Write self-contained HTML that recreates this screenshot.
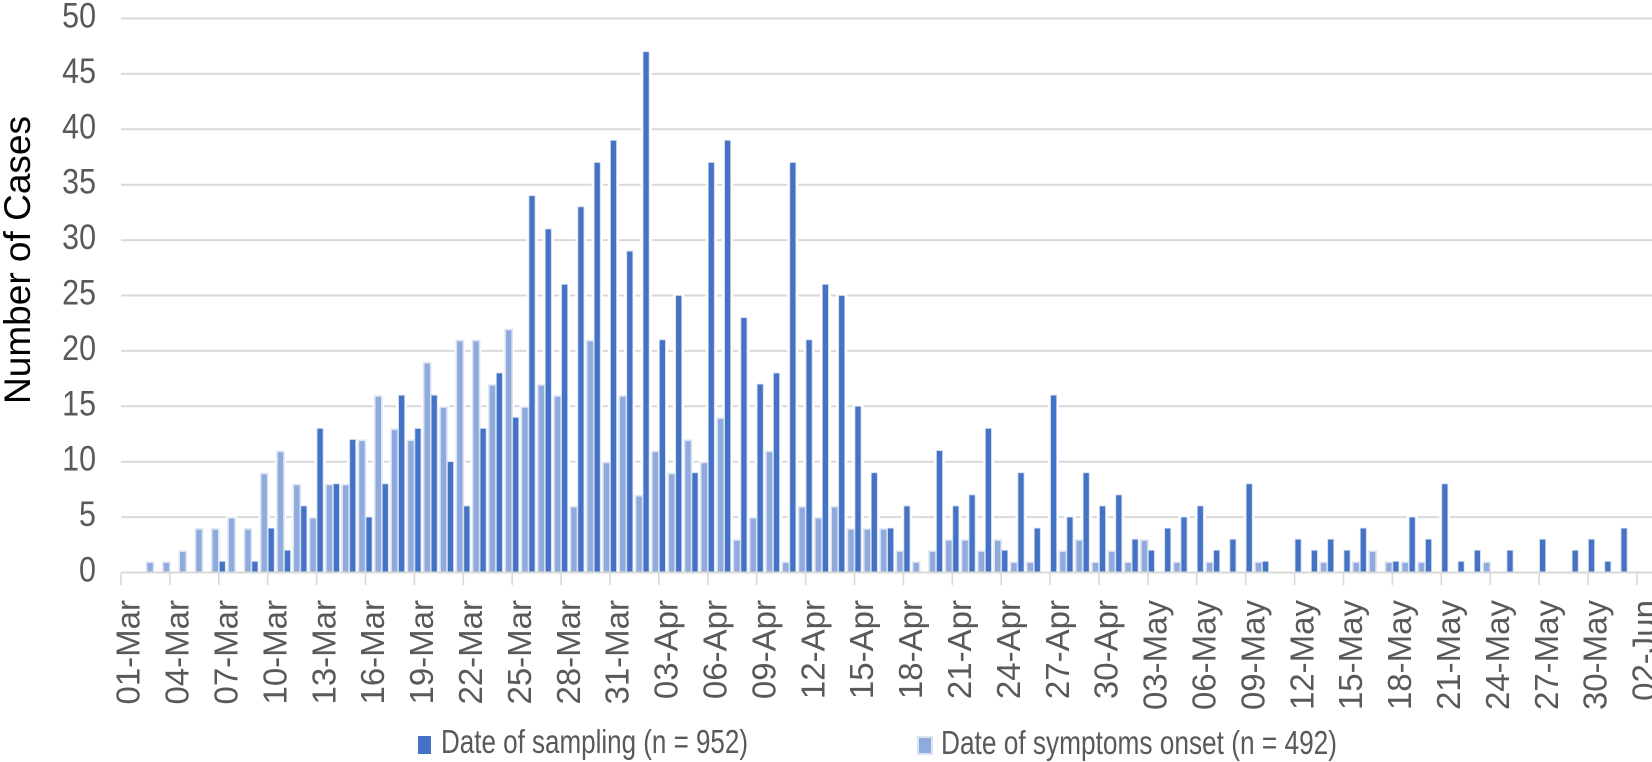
<!DOCTYPE html>
<html lang="en">
<head>
<meta charset="utf-8">
<title>Number of Cases by Date</title>
<style>
html,body{margin:0;padding:0;background:#fff;}
svg{display:block;}
text{font-family:"Liberation Sans",Arial,sans-serif;}
</style>
</head>
<body>
<svg id="chart" xmlns="http://www.w3.org/2000/svg" width="1652" height="762" viewBox="0 0 1652 762">
  <rect width="1652" height="762" fill="#ffffff"/>
  <g id="grid"></g>
  <g id="halos"></g>
  <g id="bars-onset"></g>
  <g id="bars-sampling"></g>
  <g id="x-axis"></g>
  <g id="y-axis"></g>
  <text transform="translate(30,260) rotate(-90)" text-anchor="middle" font-size="37" fill="#000000" textLength="288" lengthAdjust="spacingAndGlyphs">Number of Cases</text>
  <g>
    <rect x="418" y="736" width="13" height="18" fill="#4472c4"/>
    <text x="441" y="753" font-size="33" fill="#595959" textLength="307" lengthAdjust="spacingAndGlyphs">Date of sampling (n = 952)</text>
    <rect x="918" y="737" width="14" height="17" fill="#8faadc" stroke="#dce4f4" stroke-width="2"/>
    <text x="941" y="754" font-size="33" fill="#595959" textLength="396" lengthAdjust="spacingAndGlyphs">Date of symptoms onset (n = 492)</text>
  </g>
</svg>
<script>
const sampling = [0,0,0,0,0,0,1,0,1,4,2,6,13,8,12,5,8,16,13,16,10,6,13,18,14,34,31,26,33,37,39,29,47,21,25,9,37,39,23,17,18,37,21,26,25,15,9,4,6,0,11,6,7,13,2,9,4,16,5,9,6,7,3,2,4,5,6,2,3,8,1,0,3,2,3,2,4,0,1,5,3,8,1,2,0,2,0,3,0,2,3,1,4];
const onset = [0,0,1,1,2,4,4,5,4,9,11,8,5,8,8,12,16,13,12,19,15,21,21,17,22,15,17,16,6,21,10,16,7,11,9,12,10,14,3,5,11,1,6,5,6,4,4,4,2,1,2,3,3,2,3,1,1,0,2,3,1,2,1,3,0,1,0,1,0,0,1,0,0,0,1,0,1,2,1,1,1,0,0,0,1,0,0,0,0,0,0,0,0];
const yTickValues = [0,5,10,15,20,25,30,35,40,45,50];
const xTickLabels = ["01-Mar","04-Mar","07-Mar","10-Mar","13-Mar","16-Mar","19-Mar","22-Mar","25-Mar","28-Mar","31-Mar","03-Apr","06-Apr","09-Apr","12-Apr","15-Apr","18-Apr","21-Apr","24-Apr","27-Apr","30-Apr","03-May","06-May","09-May","12-May","15-May","18-May","21-May","24-May","27-May","30-May","02-Jun"];

const NS = 'http://www.w3.org/2000/svg';
const DAY_WIDTH = 16.3;
const X_START = 121;
const Y_ZERO = 572.5;
const UNIT = 11.08;
const TICK_STEP = 3;
function xScale(day){ return X_START + DAY_WIDTH * day; }
function yScale(v){ return Y_ZERO - UNIT * v; }
function mk(tag, parentId, attrs){
  const el = document.createElementNS(NS, tag);
  for (const k in attrs) el.setAttribute(k, attrs[k]);
  document.getElementById(parentId).appendChild(el);
  return el;
}

yTickValues.forEach(function(v){
  if (v !== 0) {
    const line = mk('line', 'grid', {x1: X_START, x2: 1652, y1: yScale(v), y2: yScale(v), stroke: '#d9d9d9', 'stroke-width': 2});
    
    
  }
  const label = mk('text', 'y-axis', {transform: 'translate(96,' + (yScale(v) + 9) + ') scale(0.87,1)', 'text-anchor': 'end', 'font-size': 35, fill: '#595959'});
  label.textContent = v;
  
  
});

onset.forEach(function(v, d){
  if (!v) return;
  const cx = xScale(d) - 3.5;
  const halo = mk('rect', 'halos', {x: cx - 5.5, y: yScale(v) - 2, width: 11, height: Y_ZERO - yScale(v) + 2, fill: '#ffffff'});
  
  
  const bar = mk('rect', 'bars-onset', {x: cx - 3.5, y: yScale(v) + 0.8, width: 7, height: Y_ZERO - yScale(v) - 0.8, fill: '#8faadc', stroke: '#dce4f4', 'stroke-width': 1.6});
  
  
});

sampling.forEach(function(v, d){
  if (!v) return;
  const cx = xScale(d) + 3.5;
  const halo = mk('rect', 'halos', {x: cx - 5.5, y: yScale(v) - 2, width: 11, height: Y_ZERO - yScale(v) + 2, fill: '#ffffff'});
  
  
  const bar = mk('rect', 'bars-sampling', {x: cx - 3, y: yScale(v), width: 6, height: Y_ZERO - yScale(v), fill: '#4472c4', stroke: '#c9d6ef', 'stroke-width': 0.8});
  
  
});

const axisLine = mk('line', 'x-axis', {x1: X_START, x2: 1652, y1: Y_ZERO, y2: Y_ZERO, stroke: '#d9d9d9', 'stroke-width': 2});



xTickLabels.forEach(function(t, i){
  const x = xScale(i * TICK_STEP);
  const tick = mk('line', 'x-axis', {x1: x, x2: x, y1: Y_ZERO, y2: 585, stroke: '#d9d9d9', 'stroke-width': 1.6});
  
  
  const label = mk('text', 'x-axis', {transform: 'translate(' + (x + 18.7) + ',600) rotate(-90)', 'text-anchor': 'end', 'font-size': 33, fill: '#595959'});
  label.textContent = t;
  
  
});
</script>
</body>
</html>
